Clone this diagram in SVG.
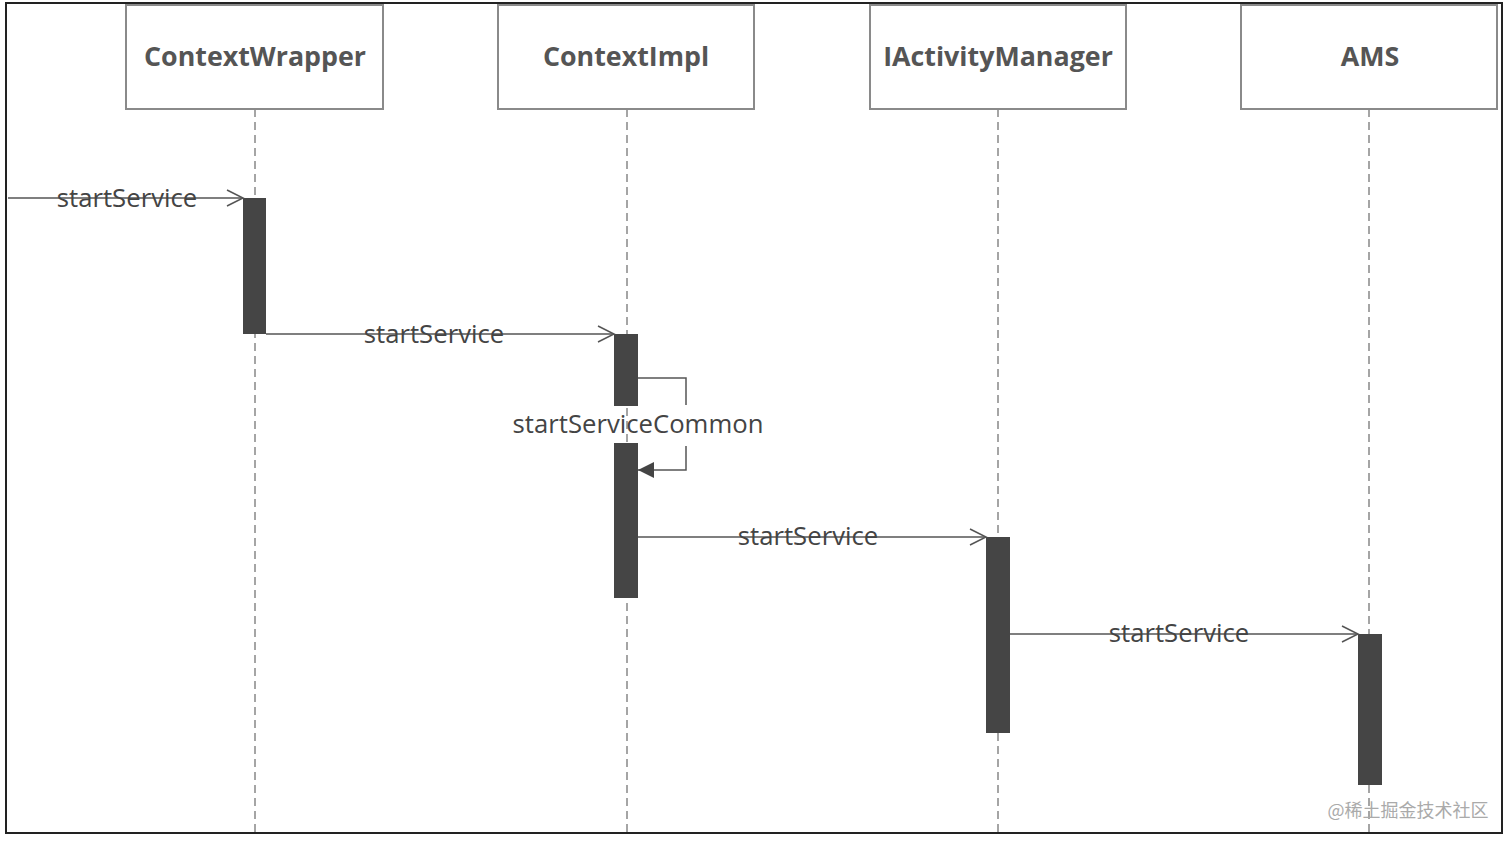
<svg xmlns="http://www.w3.org/2000/svg" width="1512" height="844" viewBox="0 0 1512 844">
<style>
.box{fill:#fff;stroke:#8a8a8a;stroke-width:2}
.hdr{font-family:"Open Sans","Liberation Sans",sans-serif;font-weight:bold;font-size:26.8px;fill:#555;text-anchor:middle}
.life{stroke:#888;stroke-width:1.5;stroke-dasharray:8,5;fill:none}
.act{fill:#454545}
.msg{stroke:#555;stroke-width:1.5;fill:none}
.lbl{font-family:"Open Sans","Liberation Sans",sans-serif;font-size:25.7px;fill:#444;text-anchor:middle}
</style>
<defs>
<marker id="open" markerWidth="20" markerHeight="20" refX="18" refY="10" orient="auto" markerUnits="userSpaceOnUse">
<path d="M2,2 L18,10 L2,18" fill="none" stroke="#555" stroke-width="1.5"/>
</marker>
<marker id="filled" markerWidth="20" markerHeight="20" refX="18" refY="10" orient="auto" markerUnits="userSpaceOnUse">
<path d="M2,2 L18,10 L2,18 Z" fill="#444"/>
</marker>
</defs>
<rect x="0" y="0" width="1512" height="844" fill="#fff"/>
<rect x="6" y="3" width="1496" height="830" fill="none" stroke="#222" stroke-width="2"/>
<g id="lifelines">
<line class="life" x1="255" y1="109" x2="255" y2="833"/>
<line class="life" x1="627" y1="109" x2="627" y2="833"/>
<line class="life" x1="998" y1="109" x2="998" y2="833"/>
<line class="life" x1="1369" y1="109" x2="1369" y2="833"/>
</g>
<g id="ContextWrapper">
<rect class="box" x="126" y="5" width="257" height="104"/>
<text class="hdr" x="255" y="66">ContextWrapper</text>
<rect class="act" x="243" y="198" width="23" height="136"/>
</g>
<g id="ContextImpl">
<rect class="box" x="498" y="5" width="256" height="104"/>
<text class="hdr" x="626" y="66">ContextImpl</text>
<rect class="act" x="614" y="334" width="24" height="72"/>
<rect class="act" x="614" y="443" width="24" height="155"/>
</g>
<g id="IActivityManager">
<rect class="box" x="870" y="5" width="256" height="104"/>
<text class="hdr" x="998" y="66">IActivityManager</text>
<rect class="act" x="986" y="537" width="24" height="196"/>
</g>
<g id="AMS">
<rect class="box" x="1241" y="5" width="256" height="104"/>
<text class="hdr" x="1370" y="66">AMS</text>
<rect class="act" x="1358" y="634" width="24" height="151"/>
</g>
<g id="connectors">
<line class="msg" x1="8" y1="198" x2="243" y2="198" marker-end="url(#open)"/>
<line class="msg" x1="266" y1="334" x2="614" y2="334" marker-end="url(#open)"/>
<polyline class="msg" points="638,378 686,378 686,405"/>
<polyline class="msg" points="686,446 686,470 638,470" marker-end="url(#filled)"/>
<line class="msg" x1="638" y1="537" x2="986" y2="537" marker-end="url(#open)"/>
<line class="msg" x1="1010" y1="634" x2="1358" y2="634" marker-end="url(#open)"/>
</g>
<g id="labels">
<text class="lbl" x="127" y="207">startService</text>
<text class="lbl" x="434" y="343">startService</text>
<text class="lbl" x="638" y="433">startServiceCommon</text>
<text class="lbl" x="808" y="545">startService</text>
<text class="lbl" x="1179" y="642">startService</text>
</g>
<text x="1408" y="817" font-family="'Noto Sans CJK SC','Noto Sans',sans-serif" font-size="18" fill="#aaa" text-anchor="middle">@稀土掘金技术社区</text>
</svg>
